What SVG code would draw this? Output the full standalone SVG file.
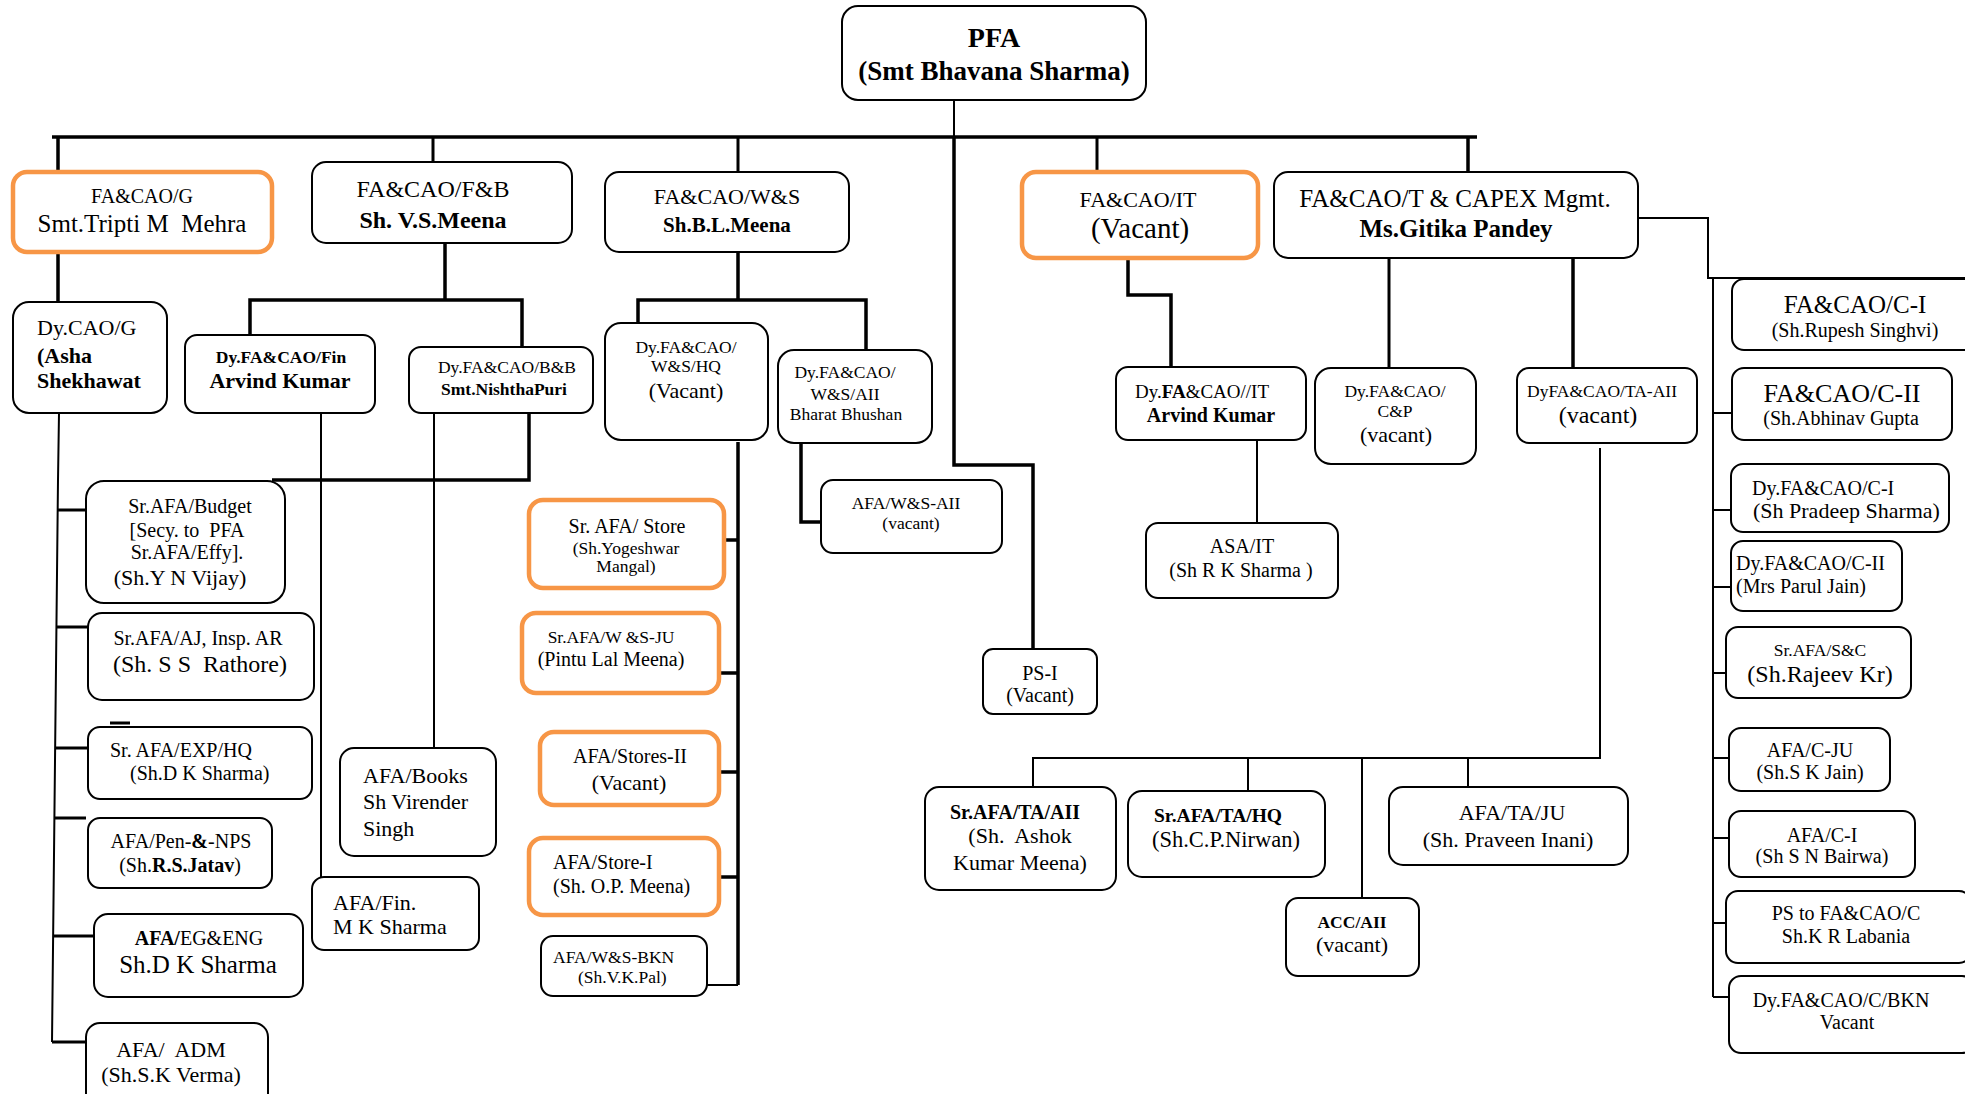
<svg xmlns="http://www.w3.org/2000/svg" width="1965" height="1094" viewBox="0 0 1965 1094">
<style>
.n{fill:#fff;stroke:#000;stroke-width:2}
.o{fill:#fff;stroke:#F79646;stroke-width:4.5}
text{font-family:"Liberation Serif","Times New Roman",serif;fill:#000}
.m{text-anchor:middle}
.b{font-weight:bold}
.s17{font-size:17.5px}
.s19{font-size:19px}
.s20{font-size:20px}
.s22{font-size:22px}
.s24{font-size:24px}
.s25{font-size:25px}
.s26{font-size:26px}
.s28{font-size:28px}
.s29{font-size:29px}
#connectors path{fill:none;stroke:#000;stroke-linejoin:miter}
.k{stroke-width:3.5}
.t2{stroke-width:2}
.t3{stroke-width:3}
</style>
<rect width="1965" height="1094" fill="#fff"/>
<g id="connectors">
<path class="k" d="M52,137H1477"/>
<path class="t2" d="M954,100V137"/>
<path class="k" d="M954,137V465H1033V649"/>
<path class="k" d="M58,137V172M58,252V302"/>
<path class="t3" d="M433,137V162M738,137V172M1097,137V172"/>
<path class="k" d="M1468,137V172"/>
<path class="k" d="M445,243V300M250,335V300H522V347"/>
<path class="k" d="M738,252V300M638,323V300H866V350"/>
<path class="k" d="M1128,258V295H1171V367"/>
<path class="t3" d="M1389,258V368"/>
<path class="k" d="M1573,258V368"/>
<path class="t2" d="M1638,218H1708V278H1965M1713,278V997"/>
<path class="t2" d="M1713,413H1732M1713,510H1731M1713,587H1731M1713,673H1732M1713,758H1729M1713,838H1729M1713,923H1726M1713,997H1729"/>
<path class="t2" d="M59,413L58,480L52,1042"/>
<path class="t3" d="M57,510H86M56,627H88M55,748H88M55,818H86M53,936H94M52,1042H88M110,723H130"/>
<path class="k" d="M529,413V480H272"/>
<path class="t2" d="M434,413V748M321,413V877"/>
<path class="k" d="M738,442V985M723,540H738M719,673H738M719,772H738M719,877H738"/>
<path class="t2" d="M707,985H738"/>
<path class="k" d="M801,443V522H821"/>
<path class="t2" d="M1257,433V523"/>
<path class="t2" d="M1600,448V758H1033V790M1248,758V791M1362,758V898M1468,758V787"/>
</g>
<g id="pfa"><rect class="n" x="842" y="6" width="304" height="94" rx="16"/><text class="m b s28" x="994" y="47">PFA</text><text class="m b" style="font-size:27px" x="994" y="80">(Smt Bhavana Sharma)</text></g>
<g id="fa-g"><rect class="o" x="13" y="172" width="259" height="80" rx="14"/><text class="m s20" x="142" y="203">FA&amp;CAO/G</text><text class="m s25" x="142" y="232">Smt.Tripti M&#160; Mehra</text></g>
<g id="fa-fb"><rect class="n" x="312" y="162" width="260" height="81" rx="14"/><text class="m s24" x="433" y="197">FA&amp;CAO/F&amp;B</text><text class="m b s24" x="433" y="228">Sh. V.S.Meena</text></g>
<g id="fa-ws"><rect class="n" x="605" y="172" width="244" height="80" rx="14"/><text class="m s22" x="727" y="204">FA&amp;CAO/W&amp;S</text><text class="m b" style="font-size:21px" x="727" y="232">Sh.B.L.Meena</text></g>
<g id="fa-it"><rect class="o" x="1022" y="172" width="236" height="86" rx="14"/><text class="m s22" x="1138" y="207">FA&amp;CAO/IT</text><text class="m s29" x="1140" y="238">(Vacant)</text></g>
<g id="fa-t"><rect class="n" x="1274" y="172" width="364" height="86" rx="14"/><text class="m s25" x="1455" y="207">FA&amp;CAO/T &amp; CAPEX Mgmt.</text><text class="m b s25" x="1456" y="237">Ms.Gitika Pandey</text></g>
<g id="dycao-g"><rect class="n" x="13" y="302" width="154" height="111" rx="16"/><text class="s22" x="37" y="335">Dy.CAO/G</text><text class="b s22" x="37" y="363">(Asha</text><text class="b s22" x="37" y="388">Shekhawat</text></g>
<g id="dy-fin"><rect class="n" x="185" y="335" width="190" height="78" rx="12"/><text class="m b s17" x="281" y="363">Dy.FA&amp;CAO/Fin</text><text class="m b s22" x="280" y="388">Arvind Kumar</text></g>
<g id="dy-bb"><rect class="n" x="409" y="347" width="184" height="66" rx="12"/><text class="m s17" x="507" y="373">Dy.FA&amp;CAO/B&amp;B</text><text class="m b s17" x="504" y="395">Smt.NishthaPuri</text></g>
<g id="dy-ws-hq"><rect class="n" x="605" y="323" width="163" height="117" rx="16"/><text class="m s17" x="686" y="353">Dy.FA&amp;CAO/</text><text class="m s17" x="686" y="372">W&amp;S/HQ</text><text class="m s22" x="686" y="398">(Vacant)</text></g>
<g id="dy-ws-aii"><rect class="n" x="778" y="350" width="154" height="93" rx="16"/><text class="m s17" x="845" y="378">Dy.FA&amp;CAO/</text><text class="m s17" x="845" y="400">W&amp;S/AII</text><text class="m s17" x="846" y="420">Bharat Bhushan</text></g>
<g id="dy-it"><rect class="n" x="1116" y="367" width="190" height="73" rx="12"/><text class="m s19" x="1202" y="398">Dy.<tspan class="b">FA</tspan>&amp;CAO//IT</text><text class="m b s20" x="1211" y="422">Arvind Kumar</text></g>
<g id="dy-cp"><rect class="n" x="1315" y="368" width="161" height="96" rx="16"/><text class="m s17" x="1395" y="397">Dy.FA&amp;CAO/</text><text class="m s17" x="1395" y="417">C&amp;P</text><text class="m s22" x="1396" y="442">(vacant)</text></g>
<g id="dy-ta-aii"><rect class="n" x="1517" y="368" width="180" height="75" rx="12"/><text class="m s17" x="1602" y="397">DyFA&amp;CAO/TA-AII</text><text class="m s24" x="1598" y="423">(vacant)</text></g>
<g id="fa-c1"><rect class="n" x="1732" y="279" width="245" height="71" rx="12"/><text class="m s25" x="1855" y="313">FA&amp;CAO/C-I</text><text class="m s20" x="1855" y="337">(Sh.Rupesh Singhvi)</text></g>
<g id="fa-c2"><rect class="n" x="1732" y="368" width="220" height="72" rx="12"/><text class="m s26" x="1842" y="402">FA&amp;CAO/C-II</text><text class="m s20" x="1841" y="425">(Sh.Abhinav Gupta</text></g>
<g id="dy-c1"><rect class="n" x="1731" y="464" width="218" height="68" rx="12"/><text class="s20" x="1752" y="495">Dy.FA&amp;CAO/C-I</text><text class="s22" x="1753" y="518">(Sh Pradeep Sharma)</text></g>
<g id="dy-c2"><rect class="n" x="1731" y="541" width="171" height="70" rx="12"/><text class="s20" x="1736" y="570">Dy.FA&amp;CAO/C-II</text><text class="s20" x="1736" y="593">(Mrs Parul Jain)</text></g>
<g id="sr-sc"><rect class="n" x="1726" y="627" width="185" height="71" rx="12"/><text class="m s17" x="1820" y="656">Sr.AFA/S&amp;C</text><text class="m s24" x="1820" y="682">(Sh.Rajeev Kr)</text></g>
<g id="afa-cju"><rect class="n" x="1729" y="728" width="161" height="63" rx="12"/><text class="m s20" x="1810" y="757">AFA/C-JU</text><text class="m s20" x="1810" y="779">(Sh.S K Jain)</text></g>
<g id="afa-c1"><rect class="n" x="1729" y="811" width="186" height="66" rx="12"/><text class="m s20" x="1822" y="842">AFA/C-I</text><text class="m s20" x="1822" y="863">(Sh S N Bairwa)</text></g>
<g id="ps-c"><rect class="n" x="1726" y="891" width="245" height="72" rx="12"/><text class="m s20" x="1846" y="920">PS to FA&amp;CAO/C</text><text class="m s20" x="1846" y="943">Sh.K R Labania</text></g>
<g id="dy-c-bkn"><rect class="n" x="1729" y="976" width="245" height="77" rx="12"/><text class="m s20" x="1841" y="1007">Dy.FA&amp;CAO/C/BKN</text><text class="m s20" x="1847" y="1029">Vacant</text></g>
<g id="asa-it"><rect class="n" x="1146" y="523" width="192" height="75" rx="12"/><text class="m s20" x="1242" y="553">ASA/IT</text><text class="m s20" x="1241" y="577">(Sh R K Sharma )</text></g>
<g id="ps-1"><rect class="n" x="983" y="649" width="114" height="65" rx="10"/><text class="m s20" x="1040" y="680">PS-I</text><text class="m s20" x="1040" y="702">(Vacant)</text></g>
<g id="sr-ta-aii"><rect class="n" x="925" y="787" width="191" height="103" rx="14"/><text class="m b s20" x="1015" y="819">Sr.AFA/TA/AII</text><text class="m s22" x="1020" y="843">(Sh.&#160; Ashok</text><text class="m s22" x="1020" y="870">Kumar Meena)</text></g>
<g id="sr-ta-hq"><rect class="n" x="1128" y="791" width="197" height="86" rx="14"/><text class="m b" style="font-size:19.5px" x="1218" y="822">Sr.AFA/TA/HQ</text><text class="m" style="font-size:22.5px" x="1226" y="847">(Sh.C.P.Nirwan)</text></g>
<g id="acc-aii"><rect class="n" x="1286" y="898" width="133" height="78" rx="12"/><text class="m b s17" x="1352" y="928">ACC/AII</text><text class="m s22" x="1352" y="952">(vacant)</text></g>
<g id="afa-ta-ju"><rect class="n" x="1389" y="787" width="239" height="78" rx="14"/><text class="m s22" x="1512" y="820">AFA/TA/JU</text><text class="m s22" x="1508" y="847">(Sh. Praveen Inani)</text></g>
<g id="afa-ws-aii"><rect class="n" x="821" y="480" width="181" height="73" rx="12"/><text class="m s17" x="906" y="509">AFA/W&amp;S-AII</text><text class="m s17" x="911" y="529">(vacant)</text></g>
<g id="sr-store"><rect class="o" x="529" y="500" width="195" height="88" rx="14"/><text class="m s20" x="627" y="533">Sr. AFA/ Store</text><text class="m s17" x="626" y="554">(Sh.Yogeshwar</text><text class="m s17" x="626" y="572">Mangal)</text></g>
<g id="sr-ws-ju"><rect class="o" x="522" y="613" width="197" height="80" rx="14"/><text class="m s17" x="611" y="643">Sr.AFA/W &amp;S-JU</text><text class="m s20" x="611" y="666">(Pintu Lal Meena)</text></g>
<g id="afa-stores2"><rect class="o" x="540" y="732" width="179" height="73" rx="14"/><text class="m s20" x="630" y="763">AFA/Stores-II</text><text class="m s22" x="629" y="790">(Vacant)</text></g>
<g id="afa-store1"><rect class="o" x="529" y="838" width="190" height="77" rx="14"/><text class="s20" x="553" y="869">AFA/Store-I</text><text class="s20" x="553" y="893">(Sh. O.P. Meena)</text></g>
<g id="afa-ws-bkn"><rect class="n" x="541" y="936" width="166" height="60" rx="12"/><text class="s17" x="553" y="963">AFA/W&amp;S-BKN</text><text class="s17" x="578" y="983">(Sh.V.K.Pal)</text></g>
<g id="sr-budget"><rect class="n" x="86" y="481" width="199" height="122" rx="18"/><text class="m s20" x="190" y="513">Sr.AFA/Budget</text><text class="m s20" x="187" y="537">[Secy. to&#160; PFA</text><text class="m s20" x="187" y="559">Sr.AFA/Effy].</text><text class="m s22" x="180" y="585">(Sh.Y N Vijay)</text></g>
<g id="sr-aj"><rect class="n" x="88" y="613" width="226" height="87" rx="14"/><text class="m s20" x="198" y="645">Sr.AFA/AJ, Insp. AR</text><text class="m s24" x="200" y="672">(Sh. S S&#160; Rathore)</text></g>
<g id="sr-exp"><rect class="n" x="88" y="727" width="224" height="72" rx="12"/><text class="s20" x="110" y="757">Sr. AFA/EXP/HQ</text><text class="s20" x="130" y="780">(Sh.D K Sharma)</text></g>
<g id="afa-pen"><rect class="n" x="88" y="818" width="184" height="70" rx="12"/><text class="m s20" x="181" y="848">AFA/Pen-<tspan class="b">&amp;</tspan>-NPS</text><text class="m s20" x="180" y="872">(Sh.<tspan class="b">R.S.Jatav</tspan>)</text></g>
<g id="afa-eg"><rect class="n" x="94" y="914" width="209" height="83" rx="14"/><text class="m s20" x="199" y="945"><tspan class="b">AFA/</tspan>EG&amp;ENG</text><text class="m s25" x="198" y="973">Sh.D K Sharma</text></g>
<g id="afa-adm"><rect class="n" x="86" y="1023" width="182" height="92" rx="14"/><text class="m s22" x="171" y="1057">AFA/&#160; ADM</text><text class="m s22" x="171" y="1082">(Sh.S.K Verma)</text></g>
<g id="afa-books"><rect class="n" x="340" y="748" width="156" height="108" rx="14"/><text class="s22" x="363" y="783">AFA/Books</text><text class="s22" x="363" y="809">Sh Virender</text><text class="s22" x="363" y="836">Singh</text></g>
<g id="afa-fin"><rect class="n" x="312" y="877" width="167" height="73" rx="12"/><text class="s22" x="333" y="910">AFA/Fin.</text><text class="s22" x="333" y="934">M K Sharma</text></g>
</svg>
